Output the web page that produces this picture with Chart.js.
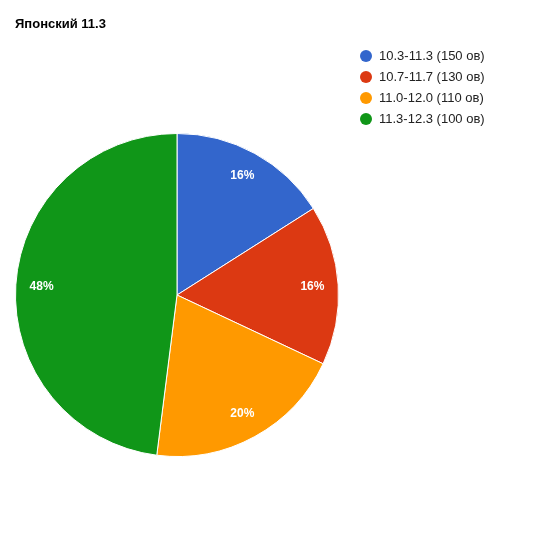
<!DOCTYPE html>
<html>
<head>
<meta charset="utf-8">
<script src="https://cdn.jsdelivr.net/npm/chart.js@4"></script>
<style>
  body { margin: 0; background: #fff; }
  #wrap { width: 540px; height: 540px; }
</style>
</head>
<body>
<div id="wrap"><canvas id="piechart" width="540" height="540"></canvas></div>
<script>
var chartTitle = 'Японский 11.3';
var labels = ['10.3-11.3 (150 ов)', '10.7-11.7 (130 ов)', '11.0-12.0 (110 ов)', '11.3-12.3 (100 ов)'];
var values = [16, 16, 20, 48];
var colors = ['#3366cc', '#dc3912', '#ff9900', '#109618'];

var fontFamily = '"Liberation Sans", Arial, sans-serif';

// title, legend and percent labels drawn the way Google Charts lays them out
var extras = {
    id: 'extras',
    afterDraw: function(chart) {
        var ctx = chart.ctx;
        ctx.save();
        ctx.fillStyle = '#000';
        ctx.font = 'bold 13px ' + fontFamily;
        ctx.textBaseline = 'middle';
        ctx.textAlign = 'left';
        ctx.fillText(chartTitle, 15, 24);

        ctx.font = '13px ' + fontFamily;
        for (var i = 0; i < labels.length; i++) {
            var y = 56 + i * 21;
            ctx.beginPath();
            ctx.arc(366, y, 6, 0, Math.PI * 2);
            ctx.fillStyle = colors[i];
            ctx.fill();
            ctx.fillStyle = '#222';
            ctx.fillText(labels[i], 379, y);
        }

        var total = values.reduce(function(a, b) { return a + b; }, 0);
        var meta = chart.getDatasetMeta(0);
        ctx.font = 'bold 12px ' + fontFamily;
        ctx.textAlign = 'center';
        ctx.fillStyle = '#fff';
        meta.data.forEach(function(arc, i) {
            var p = arc.getProps(['x', 'y', 'startAngle', 'endAngle', 'outerRadius'], true);
            var mid = (p.startAngle + p.endAngle) / 2;
            var r = p.outerRadius * 0.84;
            ctx.fillText(Math.round(values[i] / total * 100) + '%', p.x + Math.cos(mid) * r, p.y + Math.sin(mid) * r);
        });
        ctx.restore();
    }
};

var pieCtx = document.getElementById('piechart').getContext('2d');
var pieChart = new Chart(pieCtx, {
    type: 'pie',
    data: {
        labels: labels,
        datasets: [{
            data: values,
            backgroundColor: colors,
            borderColor: '#ffffff',
            borderWidth: 1
        }]
    },
    options: {
        responsive: false,
        animation: false,
        layout: { padding: { left: 15, right: 201, top: 133, bottom: 83 } },
        plugins: {
            legend: { display: false },
            title: { display: false },
            tooltip: { enabled: false }
        }
    },
    plugins: [extras]
});
</script>
</body>
</html>
